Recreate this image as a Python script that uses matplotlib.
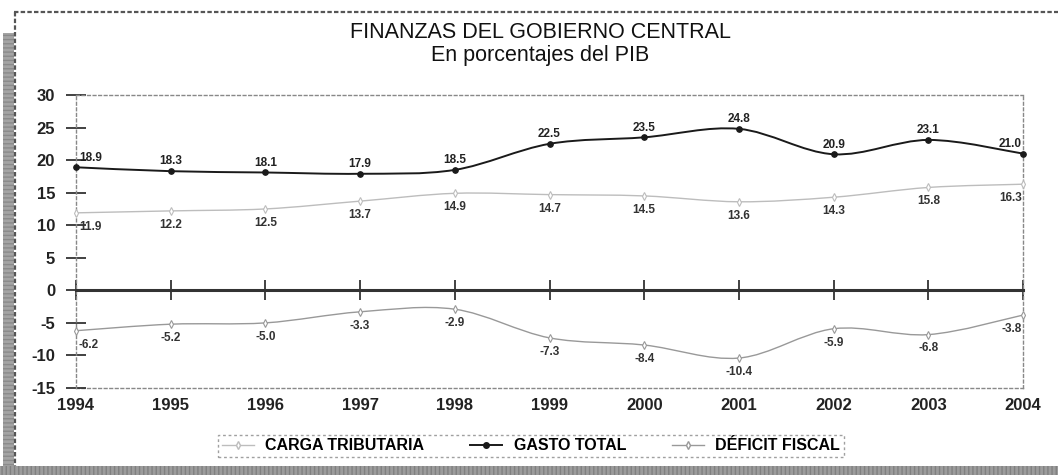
import numpy as np
import matplotlib.pyplot as plt
from matplotlib.path import Path
from matplotlib.patches import PathPatch, Rectangle
from matplotlib.lines import Line2D

years = [1994, 1995, 1996, 1997, 1998, 1999, 2000, 2001, 2002, 2003, 2004]
carga_tributaria = [11.9, 12.2, 12.5, 13.7, 14.9, 14.7, 14.5, 13.6, 14.3, 15.8, 16.3]
gasto_total = [18.9, 18.3, 18.1, 17.9, 18.5, 22.5, 23.5, 24.8, 20.9, 23.1, 21.0]
deficit_fiscal = [-6.2, -5.2, -5.0, -3.3, -2.9, -7.3, -8.4, -10.4, -5.9, -6.8, -3.8]

series_names = ["CARGA TRIBUTARIA", "GASTO TOTAL", "DÉFICIT FISCAL"]
yticks = [-15, -10, -5, 0, 5, 10, 15, 20, 25, 30]

FONT = "Liberation Sans"
plt.rcParams["axes.unicode_minus"] = False


def smooth_path(xs, ys):
    # bezier path through the points (like excel "smoothed line")
    p = np.column_stack([xs, ys]).astype(float)
    ext = np.vstack([p[0], p, p[-1]])
    verts = [p[0]]
    codes = [Path.MOVETO]
    for i in range(len(p) - 1):
        p0, p1, p2, p3 = ext[i], ext[i + 1], ext[i + 2], ext[i + 3]
        c1 = p1 + (p2 - p0) / 6.0
        c2 = p2 - (p3 - p1) / 6.0
        verts += [c1, c2, p2]
        codes += [Path.CURVE4] * 3
    return Path(verts, codes)


def draw_series(ax, values, color, lw, marker, ms, mfc):
    ax.add_patch(PathPatch(smooth_path(years, values), fill=False,
                           edgecolor=color, lw=lw, clip_on=False, zorder=3))
    ax.plot(years, values, linestyle="none", marker=marker, ms=ms,
            color=color, mfc=mfc, mew=0.8, clip_on=False, zorder=4)


def label_series(ax, values, dy, color):
    for i, (x, v) in enumerate(zip(years, values)):
        dx = 0
        ha = "center"
        if i == 0:
            dx, ha = 2, "left"
        elif i == len(years) - 1:
            dx, ha = -1, "right"
        ax.annotate(f"{v:.1f}", (x, v), xytext=(dx, dy), textcoords="offset points",
                    ha=ha, va="center", fontsize=8.5, fontweight="bold",
                    family=FONT, color=color, zorder=5)


fig = plt.figure(figsize=(10.58, 4.75), dpi=100)
ax = fig.add_axes([76 / 1058, 1 - 388 / 475, (1023 - 76) / 1058, (388 - 95) / 475])

# outer frame and grey border bands
fig.add_artist(Rectangle((3 / 1058, 5 / 475), 11 / 1058, (470 - 33) / 475,
                         transform=fig.transFigure, facecolor="#a4a4a4",
                         edgecolor="#8a8a8a", hatch="----", lw=0))
fig.add_artist(Rectangle((0, 0), 1, 9 / 475, transform=fig.transFigure,
                         facecolor="#9c9c9c", edgecolor="#808080", hatch="||||", lw=0))
fig.add_artist(Line2D([14 / 1058, 1], [1 - 12 / 475, 1 - 12 / 475],
                      transform=fig.transFigure, color="#555", lw=1.6, ls=(0, (2, 1))))
fig.add_artist(Line2D([15 / 1058, 15 / 1058], [1 - 12 / 475, 9 / 475],
                      transform=fig.transFigure, color="#555", lw=1.6, ls=(0, (2, 1))))

fig.text(540 / 1058, 1 - 32 / 475, "FINANZAS DEL GOBIERNO CENTRAL", ha="center",
         va="center", fontsize=15.5, family=FONT, color="#111")
fig.text(540 / 1058, 1 - 55 / 475, "En porcentajes del PIB", ha="center",
         va="center", fontsize=15.5, family=FONT, color="#111")

ax.set_xlim(years[0], years[-1])
ax.set_ylim(-15, 30)

draw_series(ax, carga_tributaria, "#bdbdbd", 1.0, "d", 4, "white")
draw_series(ax, gasto_total, "#1a1a1a", 1.4, "o", 4, "#1a1a1a")
draw_series(ax, deficit_fiscal, "#999999", 1.0, "d", 4, "white")

label_series(ax, gasto_total, 7, "#222")
label_series(ax, carga_tributaria, -10, "#333")
label_series(ax, deficit_fiscal, -10, "#333")

# spines
for side in ["left", "top", "right"]:
    ax.spines[side].set_linestyle((0, (2, 2)))
    ax.spines[side].set_color("#888")
    ax.spines[side].set_linewidth(1.0)
ax.spines["bottom"].set_position(("data", 0))
ax.spines["bottom"].set_linewidth(2.2)
ax.spines["bottom"].set_color("#333")

ax.set_xticks(years)
ax.tick_params(axis="x", direction="inout", length=15, width=1.3, color="#333",
               labelbottom=False)
ax.set_yticks(yticks)
ax.tick_params(axis="y", direction="inout", length=14, width=1.3, color="#333", pad=8)
for lab in ax.get_yticklabels():
    lab.set_fontfamily(FONT)
    lab.set_fontweight("bold")
    lab.set_fontsize(12)
    lab.set_color("#222")

sec = ax.secondary_xaxis("bottom")
sec.set_xticks(years)
sec.set_xticklabels([str(y) for y in years], fontsize=12, fontweight="bold",
                    family=FONT, color="#222")
sec.tick_params(length=0, pad=7)
sec.spines["bottom"].set_linestyle((0, (2, 2)))
sec.spines["bottom"].set_color("#888")
sec.spines["bottom"].set_linewidth(1.0)

handles = [
    Line2D([], [], color="#bdbdbd", lw=1.0, marker="d", ms=4, mfc="white"),
    Line2D([], [], color="#1a1a1a", lw=1.4, marker="o", ms=4),
    Line2D([], [], color="#999999", lw=1.0, marker="d", ms=4, mfc="white"),
]
leg = fig.legend(handles, series_names, loc="center", ncol=3,
                 bbox_to_anchor=(531 / 1058, 1 - 446 / 475),
                 prop={"family": FONT, "weight": "bold", "size": 11.5},
                 frameon=True, fancybox=False, handlelength=2.0, handletextpad=0.7,
                 columnspacing=2.9, borderpad=0.25, borderaxespad=0)
leg.get_frame().set_linestyle((0, (2, 2)))
leg.get_frame().set_edgecolor("#888")
leg.get_frame().set_linewidth(1.0)

fig.savefig("out.png", dpi=100)
